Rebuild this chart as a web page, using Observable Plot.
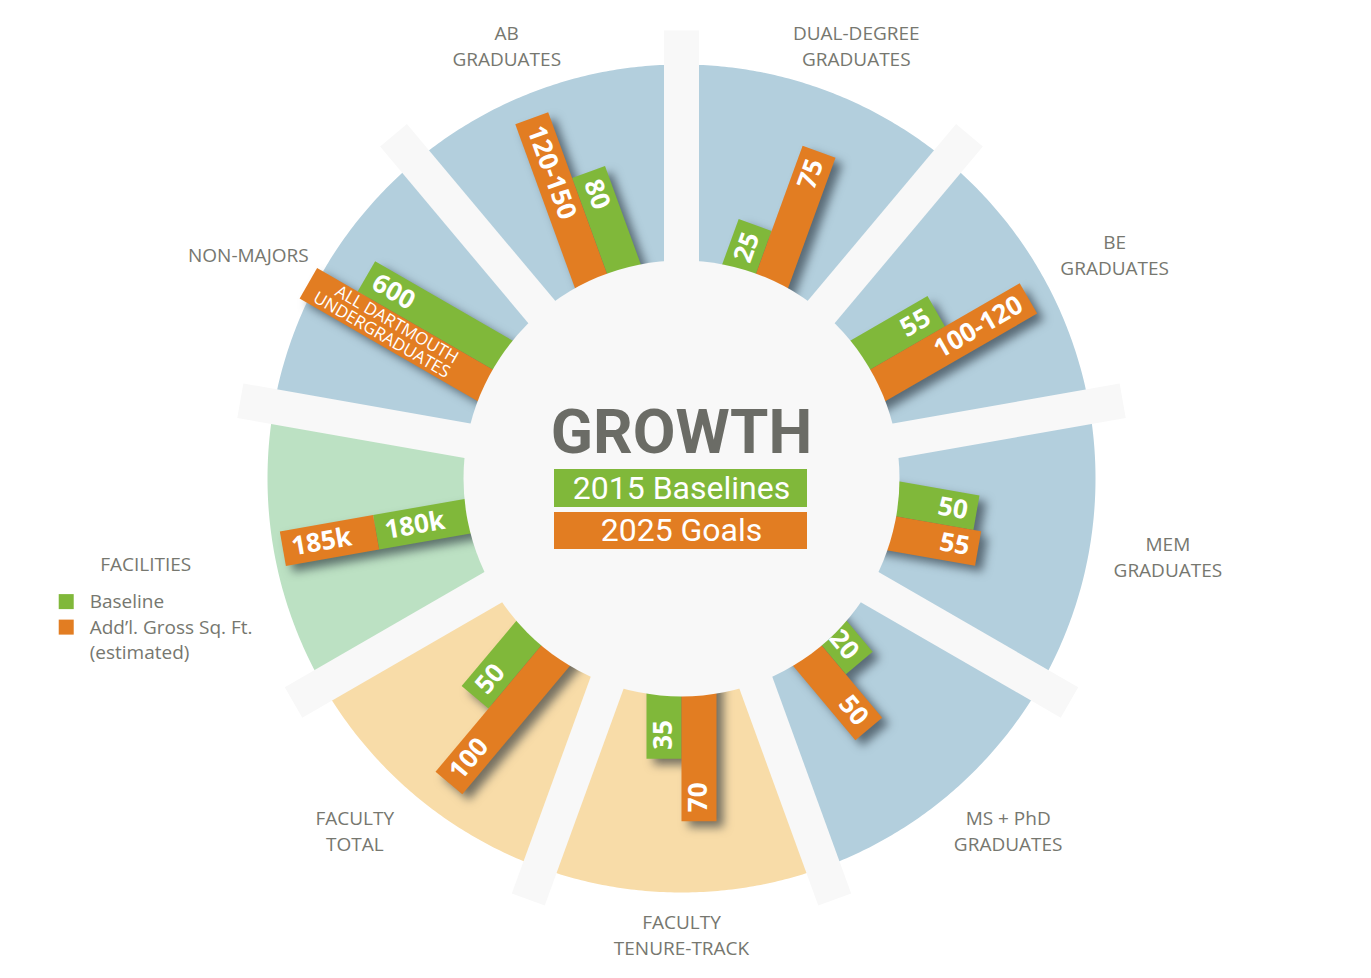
<!DOCTYPE html>
<html>
<head>
<meta charset="utf-8">
<script src="https://cdn.jsdelivr.net/npm/d3@7"></script>
<script src="https://cdn.jsdelivr.net/npm/@observablehq/plot@0.6"></script>
<style>
html, body { margin: 0; padding: 0; background: #ffffff; overflow: hidden; }
#chart svg { display: block; }
</style>
</head>
<body>
<div id="chart"></div>
<script>
// ---------------- DATA (clockwise from 12 o'clock) ----------------
const categories = ["DUAL-DEGREE\nGRADUATES", "BE\nGRADUATES", "MEM\nGRADUATES", "MS + PhD\nGRADUATES",
  "FACULTY\nTENURE-TRACK", "FACULTY\nTOTAL", "FACILITIES", "NON-MAJORS", "AB\nGRADUATES"];
const groups = ["students", "students", "students", "students", "faculty", "faculty", "facilities", "students", "students"];
const baseline = [25, 55, 50, 20, 35, 50, 180, 600, 80];
const goal = [75, 110, 55, 50, 70, 100, 185, 780, 135];
const baselineLabels = ["25", "55", "50", "20", "35", "50", "180k", "600", "80"];
const goalLabels = ["75", "100-120", "55", "50", "70", "100", "185k", "ALL DARTMOUTH\nUNDERGRADUATES", "120-150"];
// value reached at the outer edge of each sector (each sector has its own scale)
const scaleMax = [108, 125, 125, 104, 110, 119, 383, 754, 154];
// facilities goal is additional space, stacked on the baseline
const goalIsAdditional = [false, false, false, false, false, false, true, false, false];
const centerTitle = "GROWTH";
const seriesNames = ["2015 Baselines", "2025 Goals"];
const legendLabels = ["Baseline", "Add’l. Gross Sq. Ft.\n(estimated)"];

// ---------------- STYLE / LAYOUT ----------------
const groupColors = {students: "#b3cfdd", faculty: "#f8dca8", facilities: "#bce1c3"};
const seriesColors = ["#80b83a", "#e27d22"];
const gap = "#f8f8f8";
const textGray = "#76776f";
const W = 1371, H = 978, CX = 681, CY = 478;
const R_IN = 218, R_OUT = 414, SPOKE_R = 448, SPOKE_W = 35, BAR_W = 35;
const n = categories.length, step = 360 / n;
const font = "'Open Sans', 'Noto Sans', sans-serif";
const SMALL_SIZE = 17;

const rad = d => d * Math.PI / 180;
// polar -> data coords (y up); theta clockwise from top; off = along clockwise tangent
const pt = (theta, r, off = 0) => {
  const a = rad(theta);
  return [r * Math.sin(a) + off * Math.cos(a), r * Math.cos(a) - off * Math.sin(a)];
};
const ctx = document.createElement("canvas").getContext("2d");
ctx.font = `${SMALL_SIZE}px 'Open Sans'`;
const textWidth = t => Math.max(...t.split("\n").map(l => ctx.measureText(l).width));

// sectors
const sectorRows = [];
categories.forEach((c, i) => {
  const a0 = i * step, a1 = (i + 1) * step;
  const pts = [];
  for (let a = a0; a <= a1 + 1e-9; a += 0.5) pts.push(pt(a, R_OUT));
  for (let a = a1; a >= a0 - 1e-9; a -= 0.5) pts.push(pt(a, R_IN - 10));
  pts.forEach(([x, y]) => sectorRows.push({id: "s" + i, x, y, fill: groupColors[groups[i]]}));
});

// spokes (gaps between sectors)
const spokeRows = [];
for (let k = 0; k < n; k++) {
  const th = k * step;
  [[0, -SPOKE_W / 2], [SPOKE_R, -SPOKE_W / 2], [SPOKE_R, SPOKE_W / 2], [0, SPOKE_W / 2]]
    .forEach(([r, o]) => { const [x, y] = pt(th, r, o); spokeRows.push({id: "k" + k, x, y}); });
}

// bars + bar labels
const barRows = [], barLabels = [];
const rect = (id, th, r0, r1, off, fill) => {
  [[r0, off - BAR_W / 2], [r1, off - BAR_W / 2], [r1, off + BAR_W / 2], [r0, off + BAR_W / 2]]
    .forEach(([r, o]) => { const [x, y] = pt(th, r, o); barRows.push({id, x, y, fill}); });
};
categories.forEach((c, i) => {
  const th = i * step + step / 2;
  const right = th < 180;
  const f = v => v / scaleMax[i] * (R_OUT - R_IN);
  let gOff, oOff, g0, g1, o0, o1;
  if (goalIsAdditional[i]) {
    gOff = 0; oOff = 0;
    g0 = R_IN - 40; g1 = R_IN + f(baseline[i]);
    o0 = g1; o1 = g1 + f(goal[i]);
  } else {
    gOff = right ? -BAR_W / 2 : BAR_W / 2; oOff = -gOff;
    g0 = R_IN - 40; g1 = R_IN + f(baseline[i]);
    o0 = R_IN - 40; o1 = R_IN + f(goal[i]);
  }
  rect("g" + i, th, g0, g1, gOff, seriesColors[0]);
  rect("o" + i, th, o0, o1, oOff, seriesColors[1]);
  const rot = right ? th - 90 : th + 90;
  [[baselineLabels[i], g1, gOff], [goalLabels[i], o1, oOff]].forEach(([t, rEnd, off]) => {
    const small = t.includes("\n");
    // long labels are aligned on their inner end, short ones on the bar's outer end
    const r = small ? rEnd - 12 - textWidth(t) : rEnd - 9;
    const [x, y] = pt(th, r, off);
    barLabels.push({x, y, text: t, rotate: rot, right, small});
  });
});

// sector labels
const labelRows = categories.map((c, i) => {
  const th = i * step + step / 2;
  const thl = th + 3 * Math.sin(rad(2 * th));
  const r = 455 + 38 * Math.abs(Math.sin(rad(th))) + (goalIsAdditional[i] ? 50 : 0);
  const [x, y] = pt(thl, r);
  return {x, y, text: c, legend: goalIsAdditional[i]};
});
const legAnchor = labelRows.find(d => d.legend);
const legendRows = [], legendSwatches = [];
let row = 0;
legendLabels.forEach((t, j) => {
  const lines = t.split("\n");
  legendSwatches.push({x1: legAnchor.x - 86.5, x2: legAnchor.x - 71.5,
    y1: legAnchor.y - 39 - row * 25.5 + 7.5, y2: legAnchor.y - 39 - row * 25.5 - 7.5, fill: seriesColors[j]});
  lines.forEach(l => { legendRows.push({x: legAnchor.x - 56, y: legAnchor.y - 39 - row * 25.5, text: l}); row++; });
});

const centerBoxes = [
  {x1: -127, x2: 126, y1: 9, y2: -29, fill: seriesColors[0], ty: -10, text: seriesNames[0]},
  {x1: -127, x2: 126, y1: -34, y2: -71, fill: seriesColors[1], ty: -52.5, text: seriesNames[1]}
];

const chart = Plot.plot({
  width: W, height: H, margin: 0,
  x: {domain: [-CX, W - CX], axis: null},
  y: {domain: [CY - H, CY], axis: null},
  color: {type: "identity"},
  style: {background: "#ffffff"},
  marks: [
    Plot.line(sectorRows, {x: "x", y: "y", z: "id", fill: "fill", stroke: "none"}),
    Plot.line(spokeRows, {x: "x", y: "y", z: "id", fill: gap, stroke: "none"}),
    Plot.line(barRows, {x: "x", y: "y", z: "id", fill: "fill", stroke: "none"}),
    Plot.dot([{x: 0, y: 0}], {x: "x", y: "y", r: R_IN, fill: gap, stroke: "none"}),
    Plot.text(barLabels, {filter: d => d.right && !d.small, x: "x", y: "y", text: "text", rotate: "rotate",
      textAnchor: "end", fill: "white", fontWeight: "bold", fontSize: 26, fontFamily: font}),
    Plot.text(barLabels, {filter: d => !d.right && !d.small, x: "x", y: "y", text: "text", rotate: "rotate",
      textAnchor: "start", fill: "white", fontWeight: "bold", fontSize: 26, fontFamily: font}),
    Plot.text(barLabels, {filter: d => d.small, x: "x", y: "y", text: "text", rotate: "rotate",
      textAnchor: "end", fill: "white", fontSize: SMALL_SIZE, lineHeight: 0.98, fontFamily: font}),
    Plot.text([centerTitle], {x: 0, y: 45, text: d => d, fill: "#6b6c66", fontWeight: "bold", fontSize: 62,
      fontFamily: "Roboto, sans-serif"}),
    Plot.rect(centerBoxes, {x1: "x1", x2: "x2", y1: "y1", y2: "y2", fill: "fill"}),
    Plot.text(centerBoxes, {x: 0, y: "ty", text: "text", fill: "white", fontSize: 32, fontFamily: "Roboto, sans-serif"}),
    Plot.text(labelRows, {x: "x", y: "y", text: "text", fill: textGray, fontSize: 19, lineHeight: 1.37, fontFamily: font}),
    Plot.rect(legendSwatches, {x1: "x1", x2: "x2", y1: "y1", y2: "y2", fill: "fill"}),
    Plot.text(legendRows, {x: "x", y: "y", text: "text", textAnchor: "start", fill: textGray, fontSize: 19, fontFamily: font})
  ]
});
const lineGroups = chart.querySelectorAll('g[aria-label="line"]');
if (lineGroups.length >= 3) lineGroups[2].style.filter = "drop-shadow(7px 6px 5px rgba(30,40,50,0.6))";
document.getElementById("chart").appendChild(chart);
</script>
</body>
</html>
